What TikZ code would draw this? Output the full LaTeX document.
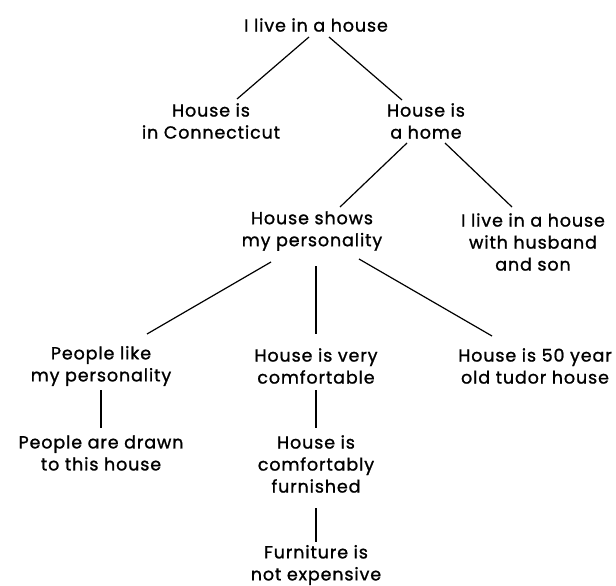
\documentclass[tikz,border=0pt]{standalone}
\usepackage{fontspec}
\setmainfont{Poppins}[LetterSpace=5, FakeBold=1.2]
\usetikzlibrary{calc}

\begin{document}
\begin{tikzpicture}[x = 1pt, y = -1pt,
    idea/.style = {align = center, inner sep = 0pt, font = \fontsize{17.5}{22}\selectfont},
    branch/.style = {draw, line width = 1.2pt}]
    \useasboundingbox (0,0) rectangle (616,586);

    \node[idea] (root)      at (316,25)  {I live in a house};
    \node[idea] (conn)      at (211,121) {House is\\in Connecticut};
    \node[idea] (home)      at (426,121) {House is\\a home};
    \node[idea] (shows)     at (312,231) {House shows\\my personality};
    \node[idea] (husband)   at (533,242) {I live in a house\\with husband\\and son};
    \node[idea] (like)      at (101,366) {People like\\my personality};
    \node[idea] (very)      at (316,366) {House is very\\comfortable};
    \node[idea] (fifty)     at (535,366) {House is 50 year\\old tudor house};
    \node[idea] (drawn)     at (101,453) {People are drawn\\to this house};
    \node[idea] (furnished) at (316,464) {House is\\comfortably\\furnished};
    \node[idea] (furniture) at (316,565) {Furniture is\\not expensive};

    \path[branch] ($(root)+(-7,12)$)      edge ($(conn)+(26,-22)$)
                  ($(root)+(13,12)$)      edge ($(home)+(-24,-21)$)
                  ($(home)+(-19,22)$)     edge ($(shows)+(28,-24)$)
                  ($(home)+(19,22)$)      edge ($(husband)+(-21,-35)$)
                  ($(shows)+(-41,31)$)    edge ($(like)+(46,-32)$)
                  ($(shows)+(4,35)$)      edge ($(very)+(0,-32)$)
                  ($(shows)+(47,28)$)     edge ($(fifty)+(-43,-30)$)
                  ($(like)+(0,24)$)       edge ($(drawn)+(0,-25)$)
                  ($(very)+(0,24)$)       edge ($(furnished)+(0,-36)$)
                  ($(furnished)+(0,44)$)  edge ($(furniture)+(0,-23)$);
\end{tikzpicture}
\end{document}
